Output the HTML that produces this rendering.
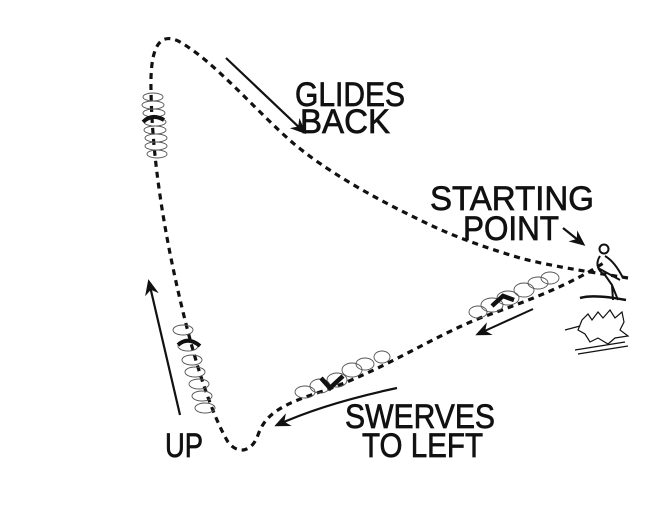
<!DOCTYPE html>
<html><head><style>
html,body{margin:0;padding:0;background:#fff;}
svg{display:block}
text{font-family:"Liberation Sans",sans-serif;font-size:34px;fill:#111;stroke:#111;stroke-width:0.7}
</style></head><body>
<svg width="660" height="514" viewBox="0 0 660 514" xmlns="http://www.w3.org/2000/svg">
<defs>
<marker id="ah2" markerWidth="16" markerHeight="14" refX="13" refY="7" orient="auto" markerUnits="userSpaceOnUse"><path d="M0,0 L16,7 L0,14 L5,7 z" fill="#111"/></marker></defs>
<g fill="none" stroke="#111" stroke-linecap="butt">
<path d="M628,278 C590,272 550,266 520,258 C480,246 450,235 420,220 C370,196 325,170 293,143 C255,110 215,62 180,42 C158,30 150,50 151,90 C152,160 165,240 185,320 C200,380 215,420 228,442 C238,455 252,452 258,435 C265,415 280,405 320,392 C380,372 430,338 480,318 C530,300 570,285 605,262" stroke-width="3.2" stroke-dasharray="6,5"/>
<path d="M226,58 L304,132" stroke-width="2.2" marker-end="url(#ah2)"/>
<path d="M563,228 L583,244" stroke-width="2.2" marker-end="url(#ah2)"/>
<path d="M180,415 L149,282" stroke-width="2.2" marker-end="url(#ah2)"/>
<path d="M397,388 C350,398 310,410 277,425" stroke-width="2.2" marker-end="url(#ah2)"/>
<path d="M533,309 L478,334" stroke-width="2" marker-end="url(#ah2)"/>
<g stroke-width="0.9" stroke="#555">
<ellipse cx="153" cy="97" rx="10" ry="4"/><ellipse cx="153" cy="105" rx="11" ry="4"/><ellipse cx="154" cy="113" rx="11" ry="4"/><ellipse cx="155" cy="122" rx="11" ry="4"/><ellipse cx="155" cy="130" rx="11" ry="4"/><ellipse cx="156" cy="138" rx="11" ry="4"/><ellipse cx="156" cy="146" rx="11" ry="4"/><ellipse cx="157" cy="154" rx="10" ry="4"/>
<ellipse cx="183" cy="330" rx="10" ry="5"/><ellipse cx="188" cy="346" rx="10" ry="5"/><ellipse cx="192" cy="360" rx="10" ry="5"/><ellipse cx="195" cy="372" rx="10" ry="5"/><ellipse cx="199" cy="384" rx="10" ry="5"/><ellipse cx="202" cy="396" rx="10" ry="5"/><ellipse cx="205" cy="408" rx="10" ry="5"/>
<ellipse cx="305" cy="392" rx="10" ry="6"/><ellipse cx="320" cy="386" rx="10" ry="7"/><ellipse cx="337" cy="380" rx="10" ry="7"/><ellipse cx="352" cy="370" rx="10" ry="7"/><ellipse cx="365" cy="364" rx="9" ry="6"/><ellipse cx="382" cy="357" rx="8" ry="6"/>
<ellipse cx="478" cy="312" rx="9" ry="6"/><ellipse cx="492" cy="305" rx="11" ry="7"/><ellipse cx="508" cy="298" rx="11" ry="7"/><ellipse cx="524" cy="290" rx="10" ry="7"/><ellipse cx="538" cy="283" rx="10" ry="6"/><ellipse cx="550" cy="278" rx="9" ry="6"/>
</g>
<path d="M143,122 Q152,113 164,120" stroke-width="4"/>
<path d="M178,345 Q188,336 200,346" stroke-width="4"/>
<path d="M321,378 L330,388 L343,376" stroke-width="4.5"/>
<path d="M492,306 L503,296 L514,300" stroke-width="4.5"/>
<g stroke-width="2">
<circle cx="604" cy="249" r="4.5"/>
<path d="M600,256 C596,262 596,270 605,275 L612,285 L613,300 M605,256 C612,260 618,268 623,278 M612,285 L618,300 M598,268 L620,280"/>
<path d="M580,298 C590,295 605,296 626,300" stroke-width="2.5"/>
</g>
<g stroke-width="1.2">
<path d="M582,320 L588,314 L592,320 L598,312 L603,318 L610,310 L615,318 L622,312 L624,322 L620,330 L628,336 L615,338 L608,344 L598,338 L590,342 L585,334 L578,330 Z"/>
<path d="M575,350 L625,342 M578,354 L628,346 M565,330 L580,326"/>
</g>
</g>
<text x="295" y="106" textLength="110" lengthAdjust="spacingAndGlyphs">GLIDES</text>
<text x="300" y="133" textLength="90" lengthAdjust="spacingAndGlyphs">BACK</text>
<text x="430" y="210" textLength="164" lengthAdjust="spacingAndGlyphs">STARTING</text>
<text x="463" y="240" textLength="96" lengthAdjust="spacingAndGlyphs">POINT</text>
<text x="345" y="428" font-size="31" textLength="150" lengthAdjust="spacingAndGlyphs">SWERVES</text>
<text x="362" y="457" font-size="31" textLength="121" lengthAdjust="spacingAndGlyphs">TO LEFT</text>
<text x="165" y="457" font-size="31" textLength="38" lengthAdjust="spacingAndGlyphs">UP</text>
</svg>
</body></html>
